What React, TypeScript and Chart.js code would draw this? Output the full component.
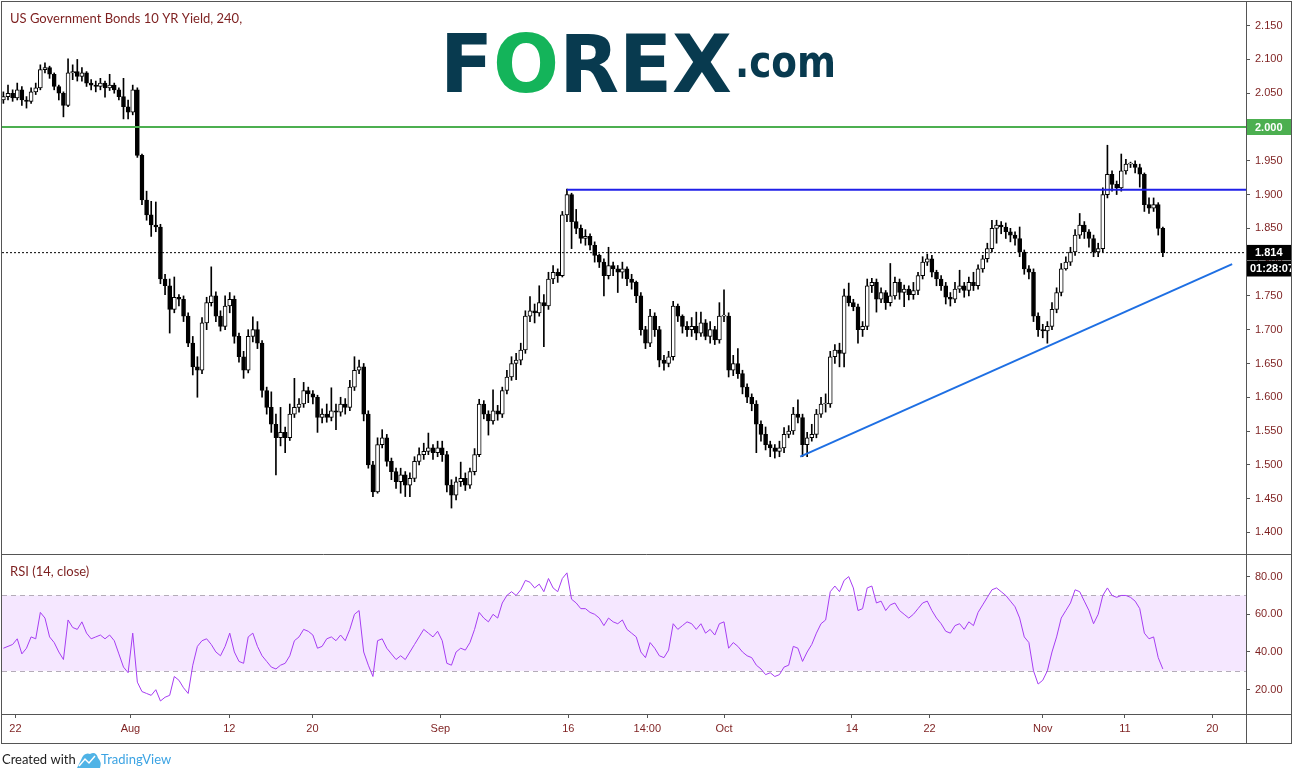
import React, { useEffect, useRef } from "react";
import { Chart, registerables } from "chart.js";

Chart.register(...registerables);

const title = "US Government Bonds 10 YR Yield, 240,";
const rsiTitle = "RSI (14, close)";
const countdown = "01:28:07";

const firstOpen = 2.04;
const closes = [
  2.045, 2.050, 2.043, 2.055, 2.040, 2.038, 2.052, 2.058, 2.085, 2.088, 2.078, 2.060,
  2.050, 2.032, 2.080, 2.082, 2.075, 2.080, 2.065, 2.062, 2.060, 2.065, 2.058, 2.062,
  2.055, 2.045, 2.030, 2.022, 2.055, 1.958, 1.892, 1.870, 1.855, 1.852, 1.775, 1.765,
  1.730, 1.748, 1.745, 1.720, 1.680, 1.645, 1.640, 1.710, 1.740, 1.750, 1.720, 1.705,
  1.735, 1.745, 1.690, 1.660, 1.640, 1.690, 1.700, 1.680, 1.610, 1.585, 1.560, 1.540,
  1.548, 1.540, 1.575, 1.585, 1.590, 1.610, 1.605, 1.600, 1.570, 1.575, 1.570, 1.580,
  1.578, 1.590, 1.585, 1.615, 1.640, 1.645, 1.575, 1.500, 1.460, 1.530, 1.540, 1.505,
  1.490, 1.475, 1.485, 1.470, 1.480, 1.505, 1.515, 1.520, 1.525, 1.518, 1.525, 1.515,
  1.470, 1.455, 1.475, 1.480, 1.470, 1.490, 1.515, 1.590, 1.575, 1.565, 1.580, 1.575,
  1.610, 1.630, 1.650, 1.655, 1.670, 1.720, 1.728, 1.725, 1.740, 1.735, 1.775, 1.785,
  1.780, 1.870, 1.900, 1.860, 1.850, 1.835, 1.838, 1.825, 1.810, 1.800, 1.780, 1.795,
  1.790, 1.785, 1.790, 1.775, 1.770, 1.750, 1.700, 1.680, 1.720, 1.700, 1.655, 1.650,
  1.660, 1.735, 1.720, 1.705, 1.700, 1.705, 1.695, 1.710, 1.690, 1.700, 1.685, 1.720,
  1.720, 1.640, 1.650, 1.635, 1.615, 1.600, 1.590, 1.560, 1.545, 1.530, 1.525, 1.520,
  1.525, 1.545, 1.550, 1.575, 1.570, 1.530, 1.540, 1.545, 1.575, 1.590, 1.590, 1.660,
  1.670, 1.665, 1.750, 1.740, 1.734, 1.700, 1.705, 1.765, 1.770, 1.745, 1.755, 1.740,
  1.750, 1.770, 1.755, 1.760, 1.752, 1.758, 1.780, 1.800, 1.805, 1.785, 1.775, 1.765,
  1.748, 1.745, 1.760, 1.765, 1.758, 1.770, 1.765, 1.790, 1.805, 1.820, 1.850, 1.855,
  1.852, 1.845, 1.840, 1.835, 1.815, 1.790, 1.785, 1.720, 1.700, 1.698, 1.705, 1.730,
  1.755, 1.790, 1.800, 1.815, 1.840, 1.855, 1.845, 1.835, 1.815, 1.820, 1.900, 1.930,
  1.915, 1.910, 1.935, 1.945, 1.945, 1.940, 1.930, 1.885, 1.880, 1.885, 1.850, 1.814,
];
const highs = [
  2.052, 2.062, 2.055, 2.065, 2.060, 2.045, 2.058, 2.065, 2.092, 2.095, 2.090, 2.080,
  2.062, 2.052, 2.101, 2.092, 2.100, 2.088, 2.082, 2.070, 2.068, 2.072, 2.068, 2.078,
  2.065, 2.058, 2.072, 2.040, 2.062, 2.058, 1.960, 1.905, 1.890, 1.889, 1.856, 1.782,
  1.775, 1.778, 1.752, 1.750, 1.725, 1.690, 1.660, 1.718, 1.748, 1.793, 1.756, 1.728,
  1.750, 1.755, 1.750, 1.695, 1.668, 1.700, 1.719, 1.712, 1.684, 1.615, 1.608, 1.575,
  1.585, 1.556, 1.590, 1.628, 1.598, 1.622, 1.615, 1.610, 1.603, 1.583, 1.590, 1.614,
  1.590, 1.600, 1.598, 1.625, 1.660, 1.655, 1.650, 1.580, 1.505, 1.540, 1.552, 1.545,
  1.510, 1.495, 1.495, 1.490, 1.488, 1.512, 1.525, 1.532, 1.547, 1.530, 1.535, 1.535,
  1.520, 1.478, 1.482, 1.504, 1.488, 1.495, 1.524, 1.597, 1.595, 1.580, 1.611, 1.588,
  1.615, 1.640, 1.660, 1.665, 1.680, 1.728, 1.749, 1.738, 1.765, 1.752, 1.785, 1.795,
  1.790, 1.875, 1.908, 1.902, 1.878, 1.855, 1.848, 1.842, 1.830, 1.812, 1.805, 1.822,
  1.800, 1.795, 1.800, 1.793, 1.782, 1.772, 1.755, 1.705, 1.730, 1.725, 1.705, 1.662,
  1.668, 1.742, 1.738, 1.722, 1.712, 1.718, 1.726, 1.726, 1.715, 1.712, 1.705, 1.740,
  1.759, 1.725, 1.662, 1.672, 1.640, 1.620, 1.605, 1.595, 1.565, 1.556, 1.535, 1.530,
  1.535, 1.555, 1.558, 1.585, 1.596, 1.575, 1.548, 1.560, 1.582, 1.600, 1.605, 1.668,
  1.678, 1.680, 1.760, 1.769, 1.745, 1.738, 1.712, 1.775, 1.776, 1.775, 1.762, 1.758,
  1.798, 1.778, 1.775, 1.766, 1.765, 1.770, 1.785, 1.808, 1.812, 1.810, 1.788, 1.780,
  1.770, 1.755, 1.770, 1.788, 1.770, 1.778, 1.785, 1.796, 1.810, 1.828, 1.862, 1.862,
  1.860, 1.858, 1.850, 1.845, 1.852, 1.818, 1.795, 1.790, 1.725, 1.708, 1.712, 1.740,
  1.762, 1.798, 1.808, 1.822, 1.848, 1.872, 1.860, 1.848, 1.840, 1.828, 1.910, 1.973,
  1.935, 1.920, 1.960, 1.952, 1.948, 1.950, 1.945, 1.932, 1.895, 1.895, 1.888, 1.852,
];
const lows = [
  2.035, 2.040, 2.038, 2.040, 2.032, 2.028, 2.035, 2.048, 2.055, 2.080, 2.072, 2.055,
  2.040, 2.015, 2.030, 2.070, 2.068, 2.068, 2.060, 2.055, 2.052, 2.055, 2.044, 2.054,
  2.050, 2.040, 2.012, 2.012, 2.018, 1.955, 1.885, 1.862, 1.838, 1.845, 1.768, 1.752,
  1.695, 1.725, 1.735, 1.712, 1.675, 1.633, 1.600, 1.635, 1.700, 1.735, 1.712, 1.698,
  1.700, 1.725, 1.680, 1.652, 1.628, 1.636, 1.682, 1.672, 1.600, 1.575, 1.548, 1.485,
  1.528, 1.518, 1.536, 1.570, 1.578, 1.585, 1.592, 1.590, 1.548, 1.562, 1.563, 1.565,
  1.552, 1.572, 1.575, 1.580, 1.610, 1.635, 1.565, 1.495, 1.453, 1.458, 1.525, 1.498,
  1.478, 1.465, 1.458, 1.453, 1.453, 1.475, 1.500, 1.508, 1.515, 1.508, 1.512, 1.505,
  1.460, 1.436, 1.448, 1.468, 1.462, 1.465, 1.485, 1.512, 1.568, 1.544, 1.560, 1.566,
  1.570, 1.605, 1.625, 1.626, 1.648, 1.665, 1.712, 1.710, 1.720, 1.675, 1.730, 1.768,
  1.770, 1.778, 1.860, 1.820, 1.842, 1.828, 1.825, 1.818, 1.800, 1.792, 1.750, 1.775,
  1.780, 1.755, 1.776, 1.765, 1.760, 1.740, 1.692, 1.672, 1.675, 1.690, 1.645, 1.640,
  1.645, 1.655, 1.712, 1.695, 1.690, 1.690, 1.685, 1.690, 1.685, 1.680, 1.678, 1.680,
  1.712, 1.630, 1.632, 1.628, 1.605, 1.592, 1.580, 1.518, 1.535, 1.522, 1.512, 1.510,
  1.512, 1.518, 1.540, 1.545, 1.562, 1.512, 1.512, 1.535, 1.540, 1.570, 1.578, 1.585,
  1.650, 1.645, 1.645, 1.735, 1.728, 1.680, 1.690, 1.700, 1.755, 1.726, 1.740, 1.730,
  1.735, 1.745, 1.745, 1.734, 1.744, 1.745, 1.752, 1.775, 1.795, 1.778, 1.765, 1.758,
  1.738, 1.735, 1.740, 1.755, 1.748, 1.750, 1.758, 1.760, 1.785, 1.800, 1.815, 1.828,
  1.842, 1.835, 1.830, 1.825, 1.808, 1.782, 1.775, 1.712, 1.690, 1.688, 1.680, 1.700,
  1.725, 1.750, 1.788, 1.795, 1.810, 1.835, 1.835, 1.822, 1.808, 1.808, 1.815, 1.895,
  1.905, 1.900, 1.905, 1.930, 1.940, 1.932, 1.911, 1.875, 1.872, 1.875, 1.840, 1.808,
];
const rsiValues = [
  42, 43, 44, 47, 39, 42, 48, 47, 61, 58, 48, 45,
  40, 36, 57, 53, 52, 56, 50, 47, 48, 49, 47, 49,
  46, 39, 32, 29, 50, 24, 19, 18, 17, 20, 14, 16,
  17, 27, 25, 21, 18, 33, 43, 46, 47, 44, 40, 38,
  43, 50, 40, 35, 34, 48, 50, 43, 38, 35, 32, 31,
  33, 34, 38, 46, 48, 52, 51, 49, 42, 43, 47, 48,
  46, 49, 46, 52, 60, 62, 40, 33, 27, 46, 47, 42,
  39, 36, 38, 36, 40, 44, 48, 52, 50, 48, 51, 46,
  34, 33, 40, 42, 41, 45, 52, 61, 58, 56, 60, 58,
  66, 70, 72, 70, 73, 78, 77, 74, 76, 72, 79, 74,
  72, 79, 82, 68, 66, 63, 63, 61, 60, 58, 54, 58,
  56, 55, 57, 52, 50, 48, 40, 37, 45, 42, 38, 37,
  41, 55, 52, 54, 56, 55, 52, 55, 50, 52, 49, 55,
  56, 42, 45, 43, 40, 38, 37, 33, 31, 28, 29, 27,
  28, 32, 33, 43, 42, 35, 40, 44, 50, 55, 57, 72,
  75, 72, 78, 80, 74, 62, 63, 74, 75, 66, 67, 62,
  65, 66, 62, 60, 58, 60, 63, 66, 67, 62, 58, 55,
  51, 50, 54, 55, 52, 56, 54, 61, 65, 69, 73, 74,
  72, 70, 67, 64, 58, 48, 45, 30, 23, 25, 30, 40,
  48, 58, 62, 66, 73, 72, 67, 62, 55, 60, 70, 74,
  70, 69, 70, 70, 69, 67, 63, 50, 47, 48, 37, 31,
];

const xTickPositions = [2.6, 27.5, 48.9, 66.9, 94.6, 122.3, 139.4, 156, 183.7, 200.5, 225, 242.8, 261.7];
const xTickLabels = ["22", "Aug", "12", "20", "Sep", "16", "14:00", "Oct", "14", "22", "Nov", "11", "20"];
const priceTicks = [2.15, 2.1, 2.05, 2.0, 1.95, 1.9, 1.85, 1.8, 1.75, 1.7, 1.65, 1.6, 1.55, 1.5, 1.45, 1.4];
const rsiTicks = [80, 60, 40, 20];
const xRange = [-0.3, 269];
const priceRange = [1.368, 2.185];
const rsiRange = [7.1, 92];

const supportLevel = 2.0;
const resistanceLevel = 1.907;
const resistanceStartBar = 122;
const trendLine = [
  { x: 172.5, y: 1.512 },
  { x: 266, y: 1.797 },
];
const rsiUpper = 70;
const rsiLower = 30;

const TEXT = "#7d1f1f";
const FRAME = "#555555";
const AXIS_FONT = { family: '"Liberation Sans", Arial, sans-serif', size: 11 };

const decor = {
  id: "decor",
  beforeDatasetsDraw(chart: any) {
    const { ctx, chartArea } = chart;
    const r = chart.scales.rsi;
    const yTop = r.getPixelForValue(rsiUpper);
    const yBot = r.getPixelForValue(rsiLower);
    ctx.save();
    ctx.fillStyle = "rgba(153,21,255,0.1)";
    ctx.fillRect(chartArea.left, yTop, chartArea.right - chartArea.left, yBot - yTop);
    ctx.strokeStyle = "#b4acb8";
    ctx.lineWidth = 1;
    ctx.setLineDash([5, 4]);
    for (const y of [yTop, yBot]) {
      ctx.beginPath();
      ctx.moveTo(chartArea.left, Math.round(y) + 0.5);
      ctx.lineTo(chartArea.right, Math.round(y) + 0.5);
      ctx.stroke();
    }
    ctx.restore();
  },
  afterDraw(chart: any) {
    const { ctx, chartArea } = chart;
    const yS = chart.scales.y;
    const r = chart.scales.rsi;
    const xS = chart.scales.x;
    const right = chartArea.right + 45;
    const bottom = xS.bottom;
    ctx.save();
    // frame
    ctx.strokeStyle = FRAME;
    ctx.lineWidth = 1;
    ctx.setLineDash([]);
    ctx.strokeRect(1.5, 1.5, right - 1, bottom - 1);
    const hl = (y: number) => {
      ctx.beginPath();
      ctx.moveTo(1, Math.round(y) + 0.5);
      ctx.lineTo(right + 0.5, Math.round(y) + 0.5);
      ctx.stroke();
    };
    hl(r.top);
    hl(chartArea.bottom);
    ctx.beginPath();
    ctx.moveTo(Math.round(chartArea.right) + 0.5, 1);
    ctx.lineTo(Math.round(chartArea.right) + 0.5, bottom);
    ctx.stroke();

    // titles
    ctx.fillStyle = TEXT;
    ctx.font = '13px Lato, "Open Sans", sans-serif';
    ctx.textBaseline = "middle";
    ctx.textAlign = "left";
    ctx.fillText(title, 10, 19);
    ctx.fillText(rsiTitle, 10, r.top + 18);

    // price tags on axis
    const lastPrice = closes[closes.length - 1];
    const bx = Math.round(chartArea.right) + 1;
    const bw = right - bx;
    const tag = (py: number, bg: string, text: string, tx: number) => {
      ctx.save();
      ctx.beginPath();
      ctx.rect(bx, py - 8, bw, 16);
      ctx.clip();
      ctx.fillStyle = bg;
      ctx.fillRect(bx, py - 8, bw, 16);
      ctx.fillStyle = "#ffffff";
      ctx.font = 'bold 11px "Liberation Sans", Arial, sans-serif';
      ctx.textBaseline = "middle";
      ctx.fillText(text, tx, py + 0.5);
      ctx.restore();
    };
    tag(yS.getPixelForValue(supportLevel), "#4caf50", supportLevel.toFixed(3), bx + 8);
    const lp = yS.getPixelForValue(lastPrice);
    tag(lp, "#000000", lastPrice.toFixed(3), bx + 8);
    tag(lp + 16, "#000000", countdown, bx + 3);

    // FOREX.com logo
    ctx.textBaseline = "alphabetic";
    ctx.font = 'bold 80px "DejaVu Sans", sans-serif';
    const parts = [
      { t: "F", c: "#083a4f" },
      { t: "O", c: "#14b45a" },
      { t: "REX", c: "#083a4f" },
    ];
    const widths = parts.map((p) => ctx.measureText(p.t).width);
    const total = widths.reduce((a, b) => a + b, 0);
    ctx.save();
    ctx.translate(440, 92);
    ctx.scale(292 / total, 1);
    let cx = 0;
    parts.forEach((p, i) => {
      ctx.fillStyle = p.c;
      ctx.fillText(p.t, cx, 0);
      cx += widths[i];
    });
    ctx.restore();
    ctx.font = 'bold 44px "DejaVu Sans", sans-serif';
    const cw = ctx.measureText(".com").width;
    ctx.save();
    ctx.translate(735, 77);
    ctx.scale(101 / cw, 1);
    ctx.fillStyle = "#083a4f";
    ctx.fillText(".com", 0, 0);
    ctx.restore();

    // footer
    ctx.textBaseline = "middle";
    ctx.font = '13px Lato, "Open Sans", sans-serif';
    ctx.fillStyle = "#222222";
    ctx.fillText("Created with", 2, 760);
    ctx.fillStyle = "#4fb3e6";
    ctx.beginPath();
    ctx.moveTo(77, 768);
    ctx.lineTo(81, 760);
    ctx.quadraticCurveTo(84, 752, 90, 754);
    ctx.quadraticCurveTo(96, 751, 98, 758);
    ctx.quadraticCurveTo(102, 762, 100, 768);
    ctx.closePath();
    ctx.fill();
    ctx.strokeStyle = "#ffffff";
    ctx.lineWidth = 1.5;
    ctx.beginPath();
    ctx.moveTo(79, 766);
    ctx.lineTo(85, 759);
    ctx.lineTo(89, 763);
    ctx.lineTo(95, 756);
    ctx.stroke();
    ctx.fillStyle = "#3ba3e3";
    ctx.fillText("TradingView", 101, 760);
    ctx.restore();
  },
};

export default function App() {
  const ref = useRef<HTMLCanvasElement>(null);
  useEffect(() => {
    document.body.style.margin = "0";
    const canvas = ref.current!;
    const opens = closes.map((c, i) => (i === 0 ? firstOpen : closes[i - 1]));
    const bodies = closes.map((c, i) => ({ x: i, y: [opens[i], c] }));
    const wicks = closes.map((c, i) => ({
      x: i,
      y: [Math.min(lows[i], opens[i], c), Math.max(highs[i], opens[i], c)],
    }));
    const lastPrice = closes[closes.length - 1];
    const rsiPoints = rsiValues.map((v, i) => ({ x: i, y: v }));

    const lineBase = { type: "line", pointRadius: 0, tension: 0, fill: false, yAxisID: "y", order: 0 };

    const chart = new Chart(canvas, {
      type: "bar",
      data: {
        datasets: [
          {
            type: "line",
            data: rsiPoints,
            borderColor: "#a63df2",
            borderWidth: 1,
            pointRadius: 0,
            tension: 0,
            yAxisID: "rsi",
            order: 0,
          },
          {
            ...lineBase,
            data: [
              { x: xRange[0], y: lastPrice },
              { x: xRange[1], y: lastPrice },
            ],
            borderColor: "#000000",
            borderWidth: 1,
            borderDash: [2, 2],
          },
          {
            ...lineBase,
            data: [
              { x: xRange[0], y: supportLevel },
              { x: xRange[1], y: supportLevel },
            ],
            borderColor: "#4caf50",
            borderWidth: 2,
          },
          {
            ...lineBase,
            data: [
              { x: resistanceStartBar, y: resistanceLevel },
              { x: xRange[1], y: resistanceLevel },
            ],
            borderColor: "#2020e8",
            borderWidth: 2,
          },
          {
            ...lineBase,
            data: trendLine,
            borderColor: "#1e6fe3",
            borderWidth: 2,
          },
          {
            type: "bar",
            data: bodies,
            yAxisID: "y",
            grouped: false,
            barThickness: 4,
            minBarLength: 1,
            borderSkipped: false,
            borderWidth: 1,
            borderColor: "#000000",
            backgroundColor: (c: any) => {
              const i = c.dataIndex;
              return closes[i] >= opens[i] ? "#ffffff" : "#000000";
            },
            order: 1,
          },
          {
            type: "bar",
            data: wicks,
            yAxisID: "y",
            grouped: false,
            barThickness: 1,
            borderWidth: 0,
            backgroundColor: "#000000",
            order: 2,
          },
        ],
      } as any,
      options: {
        animation: false,
        responsive: false,
        devicePixelRatio: 1,
        events: [],
        layout: { padding: { left: 2, top: 2, right: 7, bottom: 34 } },
        plugins: { legend: { display: false }, tooltip: { enabled: false } },
        scales: {
          x: {
            type: "linear",
            position: "bottom",
            min: xRange[0],
            max: xRange[1],
            offset: false,
            afterBuildTicks: (s: any) => {
              s.ticks = xTickPositions.map((v) => ({ value: v }));
            },
            afterFit: (s: any) => {
              s.height = 29;
              s.paddingLeft = 0;
              s.paddingRight = 0;
            },
            ticks: {
              callback: (_v: any, i: number) => xTickLabels[i],
              color: TEXT,
              font: AXIS_FONT,
              padding: 4,
              autoSkip: false,
              maxRotation: 0,
              minRotation: 0,
              includeBounds: false,
            },
            grid: { offset: false, drawOnChartArea: false, drawTicks: true, tickLength: 4, color: FRAME },
            border: { display: true, color: FRAME },
          },
          y: {
            type: "linear",
            position: "right",
            stack: "panes",
            stackWeight: 3.45,
            min: priceRange[0],
            max: priceRange[1],
            afterBuildTicks: (s: any) => {
              s.ticks = priceTicks.map((v) => ({ value: v }));
            },
            afterFit: (s: any) => {
              s.width = 45;
              s.paddingTop = 0;
              s.paddingBottom = 0;
            },
            ticks: {
              callback: (v: any) => Number(v).toFixed(3),
              color: TEXT,
              font: AXIS_FONT,
              padding: 5,
              includeBounds: false,
            },
            grid: { drawOnChartArea: false, drawTicks: true, tickLength: 4, color: FRAME },
            border: { display: true, color: FRAME },
          },
          rsi: {
            type: "linear",
            position: "right",
            stack: "panes",
            stackWeight: 1,
            min: rsiRange[0],
            max: rsiRange[1],
            afterBuildTicks: (s: any) => {
              s.ticks = rsiTicks.map((v) => ({ value: v }));
            },
            afterFit: (s: any) => {
              s.width = 45;
              s.paddingTop = 0;
              s.paddingBottom = 0;
            },
            ticks: {
              callback: (v: any) => Number(v).toFixed(2),
              color: TEXT,
              font: AXIS_FONT,
              padding: 5,
              includeBounds: false,
            },
            grid: { drawOnChartArea: false, drawTicks: true, tickLength: 4, color: FRAME },
            border: { display: true, color: FRAME },
          },
        },
      } as any,
      plugins: [decor],
    });
    return () => chart.destroy();
  }, []);
  return <canvas ref={ref} width={1298} height={777} style={{ display: "block" }} />;
}
